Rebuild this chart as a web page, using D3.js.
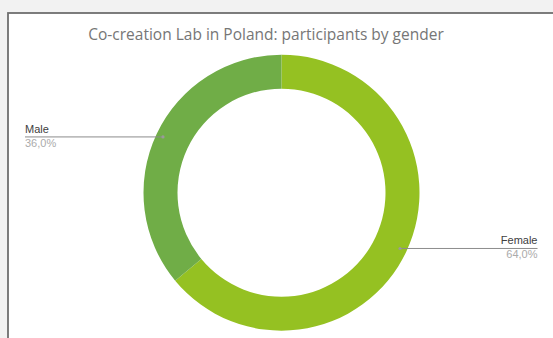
<!DOCTYPE html>
<html>
<head>
<meta charset="utf-8">
<script src="https://cdn.jsdelivr.net/npm/d3@7/dist/d3.min.js"></script>
<style>
  html, body { margin: 0; padding: 0; background: #f2f2f2; }
  svg { display: block; }
</style>
</head>
<body>
<svg id="chart" width="553" height="338"></svg>
<script>
// Participants by gender (share of total, %)
const categories = ["Female", "Male"];
const shares = [64.0, 36.0];
const colors = ["#95c122", "#70ad47"];
const title = "Co-creation Lab in Poland: participants by gender";

const svg = d3.select("#chart");
const W = 553, H = 338;

// chart area panel
svg.append("rect")
  .attr("x", 8).attr("y", 13)
  .attr("width", W + 10).attr("height", H + 10)
  .attr("fill", "#ffffff")
  .attr("stroke", "#6f6f6f")
  .attr("stroke-width", 1.8);

svg.append("text")
  .attr("x", 266).attr("y", 40)
  .attr("text-anchor", "middle")
  .attr("font-family", "Open Sans, sans-serif")
  .attr("font-size", 15.5)
  .attr("fill", "#767676")
  .text(title);

const cx = 281.5, cy = 192.7;
const rOuter = 138, rInner = 104, rLabel = 131;

const data = categories.map((c, i) => ({ name: c, value: shares[i], color: colors[i] }));
const pie = d3.pie().value(d => d.value).sort(null);
const arcs = pie(data);
const arc = d3.arc().innerRadius(rInner).outerRadius(rOuter);

const g = svg.append("g").attr("transform", `translate(${cx},${cy})`);
g.selectAll("path.slice")
  .data(arcs)
  .join("path")
  .attr("class", "slice")
  .attr("d", arc)
  .attr("fill", d => d.data.color);

// leader lines and labels
const fmt = v => v.toFixed(1).replace(".", ",") + "%";
const labelArc = d3.arc().innerRadius(rLabel).outerRadius(rLabel);

arcs.forEach(d => {
  const [px, py] = labelArc.centroid(d);
  const x0 = cx + px, y0 = cy + py;
  const right = x0 > cx;
  const xEnd = right ? 537.5 : 25;
  svg.append("line")
    .attr("x1", x0).attr("y1", y0)
    .attr("x2", xEnd).attr("y2", y0)
    .attr("stroke", "#8c8c8c").attr("stroke-width", 1);
  svg.append("circle")
    .attr("cx", x0).attr("cy", y0).attr("r", 1.6)
    .attr("fill", "#9a9a9a");
  const anchor = right ? "end" : "start";
  svg.append("text")
    .attr("x", xEnd).attr("y", y0 - 4)
    .attr("text-anchor", anchor)
    .attr("font-family", "Liberation Sans, Arial, sans-serif")
    .attr("font-size", 11)
    .attr("fill", "#404040")
    .text(d.data.name);
  svg.append("text")
    .attr("x", xEnd).attr("y", y0 + 10)
    .attr("text-anchor", anchor)
    .attr("font-family", "Liberation Sans, Arial, sans-serif")
    .attr("font-size", 11)
    .attr("fill", "#ababab")
    .text(fmt(d.data.value));
});
</script>
</body>
</html>
